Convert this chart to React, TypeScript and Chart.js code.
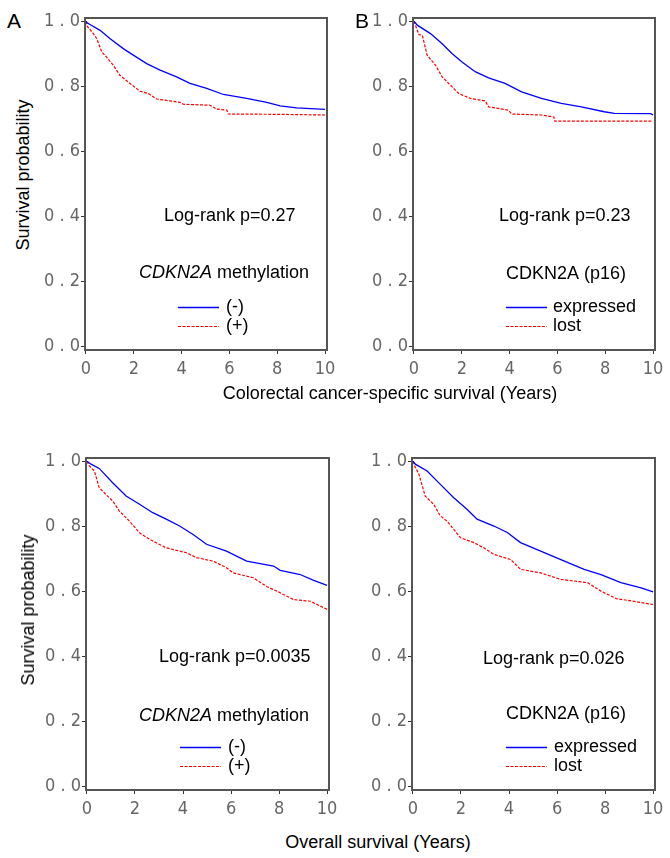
import React, { useEffect, useRef } from "react";
import { Chart, registerables } from "chart.js";
Chart.register(...registerables);

// ---------- tick values ----------
const xTickValues = [0, 2, 4, 6, 8, 10];
const yTickValues = [0, 0.2, 0.4, 0.6, 0.8, 1.0];

// ---------- Panel A: CSS by CDKN2A methylation ----------
const timeA_neg = [0, 0.05, 0.17, 0.59, 1.0, 1.56, 1.98, 2.54, 3.1, 3.79, 4.35, 5.05, 5.75, 6.72, 7.56, 8.12, 8.81, 10];
const survA_neg = [1.0, 0.995, 0.99, 0.972, 0.947, 0.916, 0.896, 0.87, 0.85, 0.829, 0.809, 0.794, 0.775, 0.763, 0.751, 0.74, 0.734, 0.729];
const timeA_pos = [0, 0.05, 0.31, 0.45, 0.66, 0.87, 1.14, 1.42, 1.84, 2.26, 2.61, 2.96, 3.93, 4.07, 5.19, 5.47, 5.89, 5.95, 8.12, 10];
const survA_pos = [1.0, 0.985, 0.962, 0.947, 0.906, 0.889, 0.865, 0.834, 0.809, 0.785, 0.778, 0.761, 0.751, 0.745, 0.742, 0.73, 0.727, 0.715, 0.714, 0.712];

// ---------- Panel B: CSS by p16 expression ----------
const timeB_exp = [0, 0.14, 0.69, 1.18, 1.59, 2.01, 2.56, 3.12, 3.81, 4.5, 5.33, 6.16, 7.0, 7.96, 8.38, 9.9, 10];
const survB_exp = [1.0, 0.988, 0.962, 0.931, 0.901, 0.875, 0.845, 0.826, 0.809, 0.783, 0.763, 0.748, 0.737, 0.722, 0.717, 0.716, 0.712];
const timeB_lost = [0, 0.1, 0.21, 0.35, 0.55, 0.9, 1.18, 1.45, 1.87, 2.36, 2.98, 3.12, 3.95, 4.09, 5.33, 5.85, 5.89, 10];
const survB_lost = [1.0, 0.98, 0.959, 0.957, 0.896, 0.865, 0.829, 0.809, 0.778, 0.763, 0.755, 0.737, 0.727, 0.715, 0.712, 0.706, 0.693, 0.693];

// ---------- Panel C: OS by CDKN2A methylation ----------
const timeC_neg = [0, 0.17, 0.51, 1.07, 1.63, 2.19, 2.74, 3.3, 3.86, 4.42, 4.98, 5.81, 6.65, 7.77, 8.05, 8.88, 9.44, 10];
const survC_neg = [1.0, 0.991, 0.978, 0.934, 0.893, 0.868, 0.842, 0.822, 0.801, 0.775, 0.745, 0.724, 0.693, 0.678, 0.665, 0.652, 0.634, 0.619];
const timeC_pos = [0, 0.1, 0.31, 0.51, 0.79, 1.07, 1.35, 1.77, 2.19, 2.61, 3.3, 4.14, 4.56, 5.26, 5.81, 6.09, 6.93, 7.49, 7.91, 8.6, 9.3, 10];
const survC_pos = [1.0, 0.986, 0.97, 0.919, 0.898, 0.878, 0.847, 0.816, 0.78, 0.76, 0.734, 0.719, 0.704, 0.693, 0.673, 0.657, 0.642, 0.615, 0.601, 0.575, 0.57, 0.545];

// ---------- Panel D: OS by p16 expression ----------
const timeD_exp = [0, 0.1, 0.59, 1.14, 1.7, 2.26, 2.67, 3.37, 3.93, 4.48, 5.32, 6.16, 7.13, 7.83, 8.66, 9.5, 10];
const survD_exp = [1.0, 0.991, 0.97, 0.929, 0.888, 0.852, 0.822, 0.801, 0.781, 0.75, 0.724, 0.698, 0.668, 0.652, 0.627, 0.611, 0.599];
const timeD_lost = [0, 0.1, 0.24, 0.51, 0.86, 1.14, 1.42, 1.98, 2.54, 2.95, 3.37, 4.07, 4.48, 5.32, 6.16, 7.27, 7.83, 8.47, 9.16, 10];
const survD_lost = [1.0, 0.981, 0.962, 0.893, 0.868, 0.832, 0.816, 0.765, 0.75, 0.734, 0.714, 0.698, 0.668, 0.657, 0.637, 0.627, 0.601, 0.578, 0.57, 0.56];

// ---------- text ----------
const logrankLabels = ["Log-rank p=0.27", "Log-rank p=0.23", "Log-rank p=0.0035", "Log-rank p=0.026"];
const methLegend = ["(-)", "(+)"];
const p16Legend = ["expressed", "lost"];
const yTitle = "Survival probability";
const xTitleTop = "Colorectal cancer-specific survival (Years)";
const xTitleBottom = "Overall survival (Years)";

const BLUE = "#0000ff";
const RED = "#ff0000";
const tickFont = "'DejaVu Sans Condensed', 'Liberation Sans Narrow', 'DejaVu Sans', sans-serif";
const textFont = "'Liberation Sans', Arial, Helvetica, sans-serif";

type Box = { left: number; top: number; right: number; bottom: number };
type Ann = {
  logrank: string; lrDx: number; lrDy: number;
  titleItalic: string; titleRest: string; tDx: number; tDy: number;
  legend: string[]; lineDx1: number; lineDx2: number; legDx: number; legDy1: number; legDy2: number;
};

const PAD_L = 50, PAD_T = 18, PAD_R = 15, PAD_B = 35;

function toPts(t: number[], s: number[]) {
  return t.map((v, i) => ({ x: v, y: s[i] }));
}

function KMPanel(props: { box: Box; t1: number[]; s1: number[]; t2: number[]; s2: number[]; ann: Ann }) {
  const ref = useRef<HTMLCanvasElement | null>(null);
  const { box, ann } = props;
  const w = box.right - box.left + PAD_L + PAD_R;
  const h = box.bottom - box.top + PAD_T + PAD_B;

  useEffect(() => {
    if (!ref.current) return;
    const annPlugin = {
      id: "annPlugin",
      afterDraw(chart: any) {
        const { ctx, chartArea: a } = chart;
        ctx.save();
        ctx.strokeStyle = "#555";
        ctx.lineWidth = 2;
        ctx.setLineDash([]);
        ctx.strokeRect(a.left, a.top, a.right - a.left, a.bottom - a.top);

        ctx.fillStyle = "#000";
        ctx.textBaseline = "middle";
        ctx.textAlign = "left";
        ctx.font = `18px ${textFont}`;
        ctx.fillText(ann.logrank, a.left + ann.lrDx, a.top + ann.lrDy);

        let x = a.left + ann.tDx;
        if (ann.titleItalic) {
          ctx.font = `italic 18px ${textFont}`;
          ctx.fillText(ann.titleItalic, x, a.top + ann.tDy);
          x += ctx.measureText(ann.titleItalic).width;
        }
        ctx.font = `18px ${textFont}`;
        ctx.fillText(ann.titleRest, x, a.top + ann.tDy);

        ctx.strokeStyle = BLUE;
        ctx.lineWidth = 1.3;
        ctx.beginPath();
        ctx.moveTo(a.left + ann.lineDx1, a.top + ann.legDy1 + 0.5);
        ctx.lineTo(a.left + ann.lineDx2, a.top + ann.legDy1 + 0.5);
        ctx.stroke();
        ctx.strokeStyle = RED;
        ctx.lineWidth = 1;
        ctx.setLineDash([3, 1.5]);
        ctx.beginPath();
        ctx.moveTo(a.left + ann.lineDx1, a.top + ann.legDy2 + 0.5);
        ctx.lineTo(a.left + ann.lineDx2, a.top + ann.legDy2 + 0.5);
        ctx.stroke();
        ctx.setLineDash([]);
        ctx.fillText(ann.legend[0], a.left + ann.legDx, a.top + ann.legDy1);
        ctx.fillText(ann.legend[1], a.left + ann.legDx, a.top + ann.legDy2);
        ctx.restore();
      },
    };

    const chart = new Chart(ref.current, {
      type: "line",
      data: {
        datasets: [
          {
            data: toPts(props.t1, props.s1),
            borderColor: BLUE,
            borderWidth: 1.3,
            pointRadius: 0,
            tension: 0,
            fill: false,
          },
          {
            data: toPts(props.t2, props.s2),
            borderColor: RED,
            borderWidth: 1.2,
            borderDash: [3, 1.5],
            pointRadius: 0,
            tension: 0,
            fill: false,
          },
        ],
      },
      options: {
        responsive: false,
        animation: false,
        devicePixelRatio: 1,
        layout: { padding: { left: 0, top: PAD_T, right: PAD_R, bottom: 0 } },
        plugins: { legend: { display: false }, tooltip: { enabled: false } },
        scales: {
          x: {
            type: "linear",
            min: -0.04,
            max: 10.08,
            afterBuildTicks: (s: any) => {
              s.ticks = xTickValues.map((v) => ({ value: v }));
            },
            afterFit: (s: any) => {
              s.height = PAD_B;
            },
            grid: { drawOnChartArea: false, drawTicks: true, tickLength: 4, tickColor: "#333", lineWidth: 1 },
            border: { display: false },
            ticks: {
              color: "#666",
              font: { family: tickFont, size: 18 },
              padding: 5,
              maxRotation: 0,
              autoSkip: false,
              callback: (v: any) => String(v),
            },
          },
          y: {
            type: "linear",
            min: -0.01,
            max: 1.01,
            afterBuildTicks: (s: any) => {
              s.ticks = yTickValues.map((v) => ({ value: v }));
            },
            afterFit: (s: any) => {
              s.width = PAD_L;
            },
            grid: { drawOnChartArea: false, drawTicks: true, tickLength: 4, tickColor: "#333", lineWidth: 1 },
            border: { display: false },
            ticks: {
              color: "#666",
              font: { family: tickFont, size: 18 },
              padding: 1,
              autoSkip: false,
              callback: (v: any) => Number(v).toFixed(1).split("").join(" "),
            },
          },
        },
      },
      plugins: [annPlugin],
    } as any);
    return () => chart.destroy();
  }, []);

  return (
    <canvas
      ref={ref}
      width={w}
      height={h}
      style={{ position: "absolute", left: box.left - PAD_L, top: box.top - PAD_T, width: w, height: h }}
    />
  );
}

const textStyle: React.CSSProperties = {
  position: "absolute",
  fontFamily: textFont,
  fontSize: 18,
  lineHeight: "18px",
  color: "#000",
  whiteSpace: "nowrap",
};

export default function App() {
  const boxA = { left: 85, top: 18, right: 327, bottom: 350 };
  const boxB = { left: 413, top: 18, right: 655, bottom: 350 };
  const boxC = { left: 86, top: 458, right: 329, bottom: 790 };
  const boxD = { left: 412, top: 458, right: 655, bottom: 790 };

  const annA: Ann = {
    logrank: logrankLabels[0], lrDx: 79, lrDy: 198,
    titleItalic: "CDKN2A", titleRest: " methylation", tDx: 54, tDy: 255,
    legend: methLegend, lineDx1: 93, lineDx2: 134, legDx: 141, legDy1: 289, legDy2: 308,
  };
  const annB: Ann = {
    logrank: logrankLabels[1], lrDx: 86, lrDy: 198,
    titleItalic: "", titleRest: "CDKN2A (p16)", tDx: 93, tDy: 256,
    legend: p16Legend, lineDx1: 93, lineDx2: 134, legDx: 140, legDy1: 289, legDy2: 308,
  };
  const annC: Ann = {
    logrank: logrankLabels[2], lrDx: 73, lrDy: 199,
    titleItalic: "CDKN2A", titleRest: " methylation", tDx: 53, tDy: 258,
    legend: methLegend, lineDx1: 94, lineDx2: 135, legDx: 142, legDy1: 289, legDy2: 308,
  };
  const annD: Ann = {
    logrank: logrankLabels[3], lrDx: 71, lrDy: 201,
    titleItalic: "", titleRest: "CDKN2A (p16)", tDx: 94, tDy: 256,
    legend: p16Legend, lineDx1: 94, lineDx2: 135, legDx: 142, legDy1: 289, legDy2: 308,
  };

  return (
    <div style={{ position: "absolute", left: 0, top: 0, width: 670, height: 858, background: "#fff", overflow: "hidden" }}>
      <KMPanel box={boxA} t1={timeA_neg} s1={survA_neg} t2={timeA_pos} s2={survA_pos} ann={annA} />
      <KMPanel box={boxB} t1={timeB_exp} s1={survB_exp} t2={timeB_lost} s2={survB_lost} ann={annB} />
      <KMPanel box={boxC} t1={timeC_neg} s1={survC_neg} t2={timeC_pos} s2={survC_pos} ann={annC} />
      <KMPanel box={boxD} t1={timeD_exp} s1={survD_exp} t2={timeD_lost} s2={survD_lost} ann={annD} />

      <div style={{ ...textStyle, fontSize: 21, lineHeight: "21px", left: 7, top: 10 }}>A</div>
      <div style={{ ...textStyle, fontSize: 21, lineHeight: "21px", left: 355, top: 10 }}>B</div>

      <div style={{ ...textStyle, left: 23, top: 175, transform: "translate(-50%, -50%) rotate(-90deg)" }}>{yTitle}</div>
      <div style={{ ...textStyle, left: 28, top: 610, transform: "translate(-50%, -50%) rotate(-90deg)" }}>{yTitle}</div>

      <div style={{ ...textStyle, left: 390, top: 384, transform: "translateX(-50%)" }}>{xTitleTop}</div>
      <div style={{ ...textStyle, left: 378, top: 833, transform: "translateX(-50%)" }}>{xTitleBottom}</div>
    </div>
  );
}
